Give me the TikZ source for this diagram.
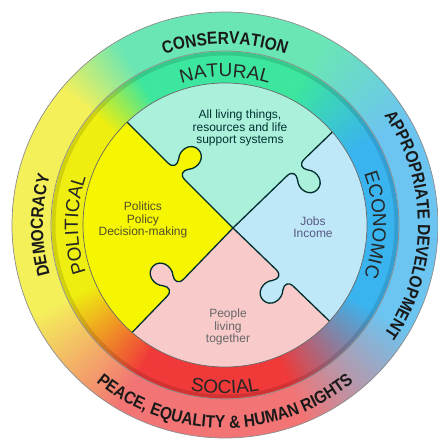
\documentclass[tikz,border=0pt]{standalone}
\usepackage{fontspec}
\setmainfont{Liberation Sans}
\newfontfamily\ringfont[FakeStretch=0.88]{Liberation Sans Bold}
\usetikzlibrary{decorations.text}

%ring colours
\definecolor{outB}{HTML}{6CC4F0}
\definecolor{outG}{HTML}{6AE6B4}
\definecolor{outY}{HTML}{F4F05A}
\definecolor{outR}{HTML}{F27474}
\definecolor{midB}{HTML}{3AB4EE}
\definecolor{midG}{HTML}{3CE69E}
\definecolor{midY}{HTML}{EEEE10}
\definecolor{midR}{HTML}{F03A3A}
%puzzle colours
\definecolor{natural}{HTML}{AAF0DA}
\definecolor{economic}{HTML}{BEE8F8}
\definecolor{social}{HTML}{F8CACA}
\definecolor{political}{HTML}{F6F600}

\newcommand{\outerfmt}{\ringfont\fontsize{17.5}{18}\selectfont}
\newcommand{\middlefmt}{\fontsize{19}{20}\selectfont}
\newcommand{\knobcurve}[1]{({#1-12},0) .. controls ({#1-5},0) and ({#1-3.5},5) .. ({#1-7},10)
  .. controls ({#1-14},18) and ({#1-10},31) .. (#1,31)
  .. controls ({#1+10},31) and ({#1+14},18) .. ({#1+7},10)
  .. controls ({#1+3.5},5) and ({#1+5},0) .. ({#1+12},0)}

\begin{document}
\begin{tikzpicture}[x=1pt,y=1pt,
    ringline/.style={draw=black!45, line width=0.7},
    edge/.style={draw=black!65!teal, line width=1.3, line join=round},
    outertext/.style={decorate, decoration={text along path, text align=center,
        text color=black!90, text={|\outerfmt|#1}}},
    middletext/.style={decorate, decoration={text along path, text align=center,
        text color=black!85, text={|\middlefmt|#1}}},
    innertext/.style={align=center, inner sep=0pt, font=\fontsize{12}{12.5}\selectfont}]
    \useasboundingbox (-225,-217) rectangle (213,225);
    %rings
    \foreach \aa/\ab/\ca/\cb in {0/30/B/B, 30/62/B/G, 62/120/G/G, 120/140/G/Y, 140/205/Y/Y,
        205/240/Y/R, 240/292/R/R, 292/330/R/B, 330/360/B/B}{
      \foreach \t in {\aa,...,\ab}{
        \pgfmathtruncatemacro\pct{(\t-\aa)/(\ab-\aa)*100}
        \fill[fill=mid\cb!\pct!mid\ca] ({\t-0.6}:141) arc[start angle=\t-0.6, end angle=\t+0.6, radius=141]
          -- ({\t+0.6}:174) arc[start angle=\t+0.6, end angle=\t-0.6, radius=174] -- cycle;
        \fill[fill=out\cb!\pct!out\ca] ({\t-0.6}:173.5) arc[start angle=\t-0.6, end angle=\t+0.6, radius=173.5]
          -- ({\t+0.6}:213) arc[start angle=\t+0.6, end angle=\t-0.6, radius=213] -- cycle;
      }
    }
    %darker rim of middle ring
    \draw[black, opacity=0.12, line width=4] (0,0) circle[radius=171.5];
    \draw[ringline] (0,0) circle[radius=213];
    \draw[ringline] (0,0) circle[radius=174];
    %puzzle
    \coordinate (P) at (8,-3);
    \begin{scope}
      \clip (0,0) circle[radius=142];
      \begin{scope}[shift={(P)}]
        \fill[natural] (0,0) -- (135:300) -- (90:300) -- (44:300) -- cycle;
        \fill[economic] (0,0) -- (44:300) -- (0:300) -- (-44:300) -- cycle;
        \fill[social] (0,0) -- (-44:300) -- (-90:300) -- (-134:300) -- cycle;
        \fill[political] (0,0) -- (-134:300) -- (180:300) -- (135:300) -- cycle;
      \end{scope}
      %tabs
      \begin{scope}[shift={(P)}, rotate=135, yscale=-1]
        \fill[political] (68,-1) -- \knobcurve{80} -- (92,-1) -- cycle;
        \draw[edge] (0,0) -- \knobcurve{80} -- (300,0);
      \end{scope}
      \begin{scope}[shift={(P)}, rotate=44, yscale=-1]
        \fill[natural] (75,-1) -- \knobcurve{87} -- (99,-1) -- cycle;
        \draw[edge] (0,0) -- \knobcurve{87} -- (300,0);
      \end{scope}
      \begin{scope}[shift={(P)}, rotate=-44, yscale=-1]
        \fill[economic] (60,-1) -- \knobcurve{72} -- (84,-1) -- cycle;
        \draw[edge] (0,0) -- \knobcurve{72} -- (300,0);
      \end{scope}
      \begin{scope}[shift={(P)}, rotate=226, yscale=-1]
        \fill[social] (71,-1) -- \knobcurve{83} -- (95,-1) -- cycle;
        \draw[edge] (0,0) -- \knobcurve{83} -- (300,0);
      \end{scope}
    \end{scope}
    \draw[ringline, draw=black!60] (0,0) circle[radius=142];
    %outer ring labels
    \path[outertext=CONSERVATION] (180:181) arc[start angle=180, end angle=0, radius=181];
    \path[outertext={APPROPRIATE DEVELOPMENT}] (90:193) arc[start angle=90, end angle=-90, radius=193];
    \path[outertext=DEMOCRACY] (270:182) arc[start angle=270, end angle=90, radius=182];
    \path[outertext={PEACE, EQUALITY {\&} HUMAN RIGHTS}] (180:203) arc[start angle=180, end angle=360, radius=203];
    %middle ring labels
    \path[middletext=NATURAL] (180:148) arc[start angle=180, end angle=0, radius=148];
    \path[middletext=ECONOMIC] (90:148) arc[start angle=90, end angle=-90, radius=148];
    \path[middletext=POLITICAL] (270:147) arc[start angle=270, end angle=90, radius=147];
    \path[middletext=SOCIAL] (180:169) arc[start angle=180, end angle=360, radius=169];
    %inner labels
    \node[innertext, text=black!60!teal] (naturalinfo) at (15,97) {All living things,\\resources and life\\support systems};
    \node[innertext, text=black!55!olive] (politicalinfo) at (-82,5) {Politics\\Policy\\Decision-making};
    \node[innertext, text=black!45!blue!30!gray] (economicinfo) at (88,-2) {Jobs\\Income};
    \node[innertext, text=black!60] (socialinfo) at (3,-102) {People\\living\\together};
\end{tikzpicture}
\end{document}
